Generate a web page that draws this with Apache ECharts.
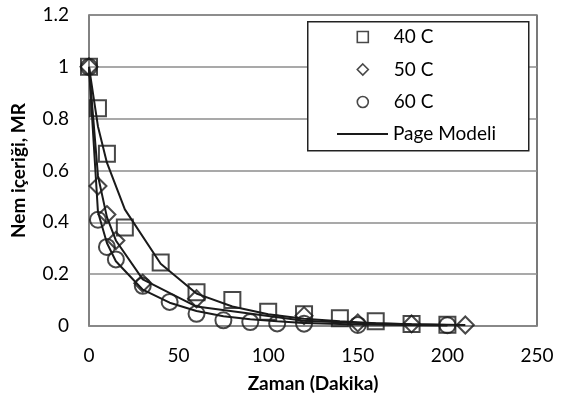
<!DOCTYPE html>
<html>
<head>
<meta charset="utf-8">
<script src="https://cdn.jsdelivr.net/npm/echarts@6/dist/echarts.min.js"></script>
<style>
html,body{margin:0;padding:0;background:#fff;}
#c{width:561px;height:398px;}
</style>
</head>
<body>
<div id="c"></div>
<script>
// Data
const t40 = [0, 5, 10, 20, 40, 60, 80, 100, 120, 140, 160, 180, 200];
const mr40 = [1, 0.84, 0.665, 0.38, 0.245, 0.13, 0.10, 0.055, 0.045, 0.03, 0.018, 0.008, 0.005];
const model40 = [1, 0.77, 0.63, 0.45, 0.24, 0.125, 0.075, 0.045, 0.028, 0.018, 0.011, 0.007, 0.004];

const t50 = [0, 5, 10, 15, 30, 60, 120, 150, 180, 210];
const mr50 = [1, 0.54, 0.43, 0.33, 0.165, 0.105, 0.04, 0.012, 0.008, 0.004];
const model50 = [1, 0.58, 0.42, 0.33, 0.18, 0.075, 0.02, 0.012, 0.007, 0.004];

const t60 = [0, 5, 10, 15, 30, 45, 60, 75, 90, 105, 120, 150, 200];
const mr60 = [1, 0.41, 0.305, 0.257, 0.155, 0.093, 0.047, 0.022, 0.015, 0.01, 0.009, 0.004, 0.003];
const model60 = [1, 0.44, 0.32, 0.25, 0.14, 0.09, 0.058, 0.038, 0.026, 0.018, 0.012, 0.006, 0.002];

const seriesNames = ['40 C', '50 C', '60 C'];
const modelName = 'Page Modeli';
const xTitle = 'Zaman (Dakika)';
const yTitle = 'Nem içeriği, MR';

const FONT = 'Lato, "Open Sans", sans-serif';
const FS = 19;
const INK = '#1a1a1a';

function pairs(xs, ys) { return xs.map((x, i) => [x, ys[i]]); }

const markerStyle = { color: 'rgba(0,0,0,0)', borderColor: INK, borderWidth: 2 };
const legendMarker = { color: 'rgba(0,0,0,0)', borderColor: INK, borderWidth: 1.6 };

const chart = echarts.init(document.getElementById('c'), null, { renderer: 'canvas' });
chart.setOption({
  animation: false,
  backgroundColor: '#fff',
  textStyle: { fontFamily: FONT },
  grid: { left: 89, right: 24, top: 15, bottom: 69, show: true, borderColor: '#222', borderWidth: 1.2, backgroundColor: 'transparent' },
  xAxis: {
    type: 'value', min: 0, max: 250, interval: 50,
    name: xTitle, nameLocation: 'middle', nameGap: 48,
    nameTextStyle: { fontFamily: FONT, fontSize: FS, fontWeight: 'bold', color: '#000' },
    axisLine: { show: true, lineStyle: { color: '#868686', width: 1.5 } },
    axisTick: { show: false },
    axisLabel: { fontFamily: FONT, fontSize: FS, color: '#000', margin: 20 },
    splitLine: { show: false }
  },
  yAxis: {
    type: 'value', min: 0, max: 1.2, interval: 0.2,
    name: yTitle, nameLocation: 'middle', nameGap: 61, nameRotate: 90,
    nameTextStyle: { fontFamily: FONT, fontSize: FS, fontWeight: 'bold', color: '#000' },
    axisLine: { show: true, lineStyle: { color: '#868686', width: 1.5 } },
    axisTick: { show: false },
    axisLabel: { fontFamily: FONT, fontSize: FS, color: '#000', margin: 20 },
    splitLine: { show: true, lineStyle: { color: '#8c8c8c', width: 1.5 } }
  },
  graphic: [{
    type: 'rect', z: 3, left: 307, top: 21,
    shape: { width: 221, height: 129 },
    style: { fill: '#fff', stroke: '#222', lineWidth: 1.5 }
  }],
  legend: [{
    z: 6, left: 351.5, top: 22, orient: 'vertical',
    itemWidth: 11, itemHeight: 11, itemGap: 12.5,
    textStyle: { fontFamily: FONT, fontSize: FS, color: '#000', lineHeight: 20, padding: [0, 0, 0, 20.5] },
    data: [
      { name: seriesNames[0], icon: 'rect', itemStyle: legendMarker },
      { name: seriesNames[1], icon: 'diamond', itemStyle: legendMarker },
      { name: seriesNames[2], icon: 'circle', itemStyle: legendMarker }
    ],
    selectedMode: false
  }, {
    z: 6, left: 332, top: 119, orient: 'vertical',
    itemWidth: 51, itemHeight: 2,
    textStyle: { fontFamily: FONT, fontSize: FS, color: '#000', lineHeight: 20 },
    data: [{ name: modelName, icon: 'rect', itemStyle: { color: INK, borderWidth: 0 } }],
    selectedMode: false
  }],
  series: [
    { name: modelName, type: 'line', data: pairs(t40, model40), symbol: 'none', lineStyle: { color: INK, width: 2 }, itemStyle: { color: INK }, z: 3 },
    { name: modelName, type: 'line', data: pairs(t50, model50), symbol: 'none', lineStyle: { color: INK, width: 2 }, itemStyle: { color: INK }, z: 3 },
    { name: modelName, type: 'line', data: pairs(t60, model60), symbol: 'none', lineStyle: { color: INK, width: 2 }, itemStyle: { color: INK }, z: 3 },
    { name: seriesNames[0], type: 'scatter', data: pairs(t40, mr40), symbol: 'rect', symbolSize: 16, itemStyle: markerStyle, z: 4 },
    { name: seriesNames[1], type: 'scatter', data: pairs(t50, mr50), symbol: 'diamond', symbolSize: 17, itemStyle: markerStyle, z: 4 },
    { name: seriesNames[2], type: 'scatter', data: pairs(t60, mr60), symbol: 'circle', symbolSize: 16, itemStyle: markerStyle, z: 4 }
  ]
});
</script>
</body>
</html>
